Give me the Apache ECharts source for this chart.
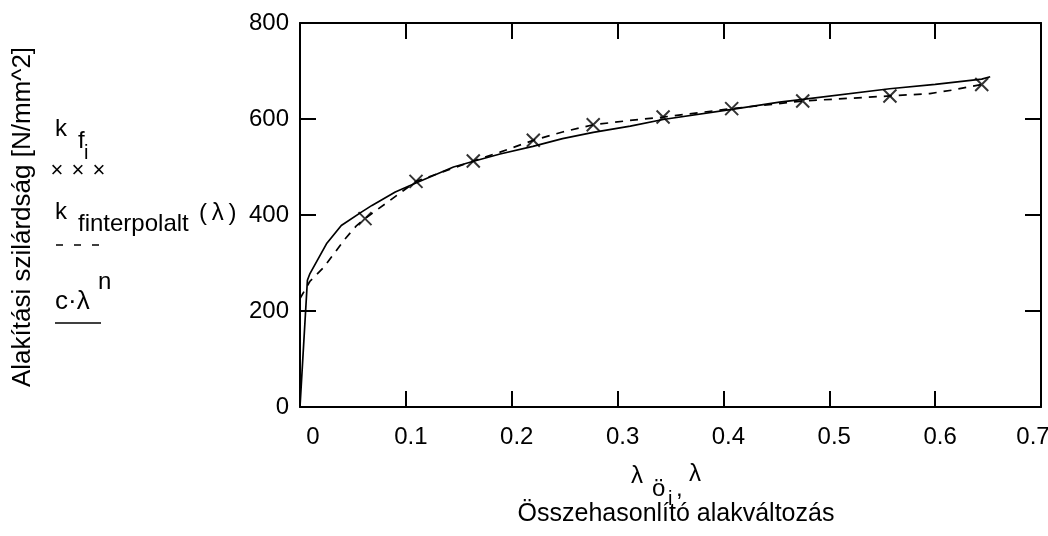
<!DOCTYPE html>
<html>
<head>
<meta charset="utf-8">
<script src="https://cdn.jsdelivr.net/npm/echarts@6/dist/echarts.min.js"></script>
<style>html,body{margin:0;padding:0;background:#fff}#c{width:1048px;height:536px}</style>
</head>
<body>
<div id="c"></div>
<script>
// c·λ^n curve
const lambdaSolid = [0, 0.007, 0.0094, 0.025, 0.039, 0.058, 0.068, 0.09, 0.11, 0.145, 0.164, 0.189, 0.22, 0.248, 0.277, 0.312, 0.343, 0.408, 0.453, 0.475, 0.557, 0.6, 0.644, 0.652];
const kSolid = [0, 264, 278, 340, 378, 406, 420, 448, 467, 500, 512, 527, 543, 559, 572, 585, 599, 620, 635, 641, 663, 672, 683, 688];
// k_finterpolalt(λ) dashed curve
const lambdaInterp = [0, 0.0094, 0.022, 0.033, 0.0425, 0.0535, 0.0614, 0.1096, 0.1637, 0.189, 0.2204, 0.248, 0.277, 0.3117, 0.343, 0.4078, 0.4749, 0.5573, 0.595, 0.6156, 0.644];
const kInterp = [226, 262, 290, 322, 350, 378, 392.5, 470, 512.5, 531, 555.6, 573, 588, 597, 604, 621.6, 637.5, 648, 653, 660, 672];
// k_fi measured points
const lambdaPts = [0.0614, 0.1096, 0.1637, 0.2204, 0.277, 0.343, 0.4078, 0.4749, 0.5573, 0.644];
const kPts = [392.5, 470, 512.5, 555.6, 588, 604, 621.6, 637.5, 648, 672];
// axis ticks
const xMin = 0, xMax = 0.7, xStep = 0.1;
const yMin = 0, yMax = 800, yStep = 200;

const FF = '"Liberation Sans", Arial, sans-serif';
const zip = (a, b) => a.map((v, i) => [v, b[i]]);

const chart = echarts.init(document.getElementById('c'), null, {renderer: 'canvas'});
const axLine = {onZero: false, lineStyle: {color: '#000', width: 2}};
const tick = {inside: true, length: 16, lineStyle: {color: '#000', width: 2}};

function txt(x, y, text, size, extra) {
  return {
    type: 'text', x: x, y: y,
    style: Object.assign({text: text, fontSize: size, fontFamily: FF, fill: '#000', align: 'left', verticalAlign: 'middle'}, extra || {})
  };
}

chart.setOption({
  animation: false,
  backgroundColor: '#fff',
  grid: {left: 300, right: 7, top: 23, bottom: 129, containLabel: false, outerBoundsMode: 'none'},
  xAxis: [{
    type: 'value', position: 'bottom', min: xMin, max: xMax, interval: xStep,
    axisLine: axLine, axisTick: tick, splitLine: {show: false},
    axisLabel: {
      color: '#000', fontSize: 24, fontFamily: FF, margin: 18, hideOverlap: false,
      formatter: v => v === xMin ? '{z|0}' : (Math.abs(v - xMax) < 1e-9 ? '{m|' + xMax + '}' : '{a|' + (+v.toFixed(1)) + '}'),
      rich: {
        z: {fontSize: 24, fontFamily: FF, color: '#000', padding: [0, 0, 0, 26]},
        a: {fontSize: 24, fontFamily: FF, color: '#000', padding: [0, 0, 0, 10]},
        m: {fontSize: 24, fontFamily: FF, color: '#000', padding: [0, 16, 0, 0]}
      }
    }
  }, {
    type: 'value', position: 'top', min: xMin, max: xMax, interval: xStep,
    axisLine: axLine, axisTick: tick, axisLabel: {show: false}, splitLine: {show: false}
  }],
  yAxis: [{
    type: 'value', position: 'left', min: yMin, max: yMax, interval: yStep,
    axisLine: axLine, axisTick: tick, splitLine: {show: false},
    axisLabel: {color: '#000', fontSize: 24, fontFamily: FF, margin: 11}
  }, {
    type: 'value', position: 'right', min: yMin, max: yMax, interval: yStep,
    axisLine: axLine, axisTick: tick, axisLabel: {show: false}, splitLine: {show: false}
  }],
  series: [{
    type: 'line', data: zip(lambdaSolid, kSolid), showSymbol: false, symbol: 'none',
    lineStyle: {color: '#000', width: 1.7}, z: 3
  }, {
    type: 'line', data: zip(lambdaInterp, kInterp), showSymbol: false, symbol: 'none',
    lineStyle: {color: '#000', width: 1.7, type: [8, 7]}, z: 2
  }, {
    type: 'scatter', data: zip(lambdaPts, kPts),
    symbol: 'path://M0,0L10,10M10,0L0,10', symbolSize: 13,
    itemStyle: {color: 'rgba(0,0,0,0)', borderColor: '#000', borderWidth: 2}, z: 4
  }],
  graphic: [
    // y-axis title
    {type: 'text', x: 23, y: 217, rotation: Math.PI / 2,
     style: {text: 'Alakítási szilárdság [N/mm^2]', fontSize: 26, fontFamily: FF, fill: '#000', align: 'center', verticalAlign: 'middle'}},
    // x-axis title line 1: λ öᵢ, λ
    txt(631, 476, 'λ', 24),
    txt(652, 489, 'ö', 24),
    txt(668, 499, 'i', 20),
    txt(676, 489, ',', 24),
    txt(689, 474, 'λ', 24),
    // x-axis title line 2
    {type: 'text', x: 676, y: 514,
     style: {text: 'Összehasonlító alakváltozás', fontSize: 25, fontFamily: FF, fill: '#000', align: 'center', verticalAlign: 'middle'}},
    // legend: k_fi
    txt(55, 129, 'k', 24),
    txt(78, 141, 'f', 24),
    txt(84, 153, 'i', 20),
    txt(57, 171, '×', 22, {align: 'center'}),
    txt(78, 171, '×', 22, {align: 'center'}),
    txt(99, 171, '×', 22, {align: 'center'}),
    // legend: k_finterpolalt(λ)
    txt(55, 212, 'k', 24),
    txt(78, 224, 'finterpolalt', 24),
    txt(199, 213, '(\u2009λ\u2009)', 24),
    {type: 'line', shape: {x1: 56, y1: 245, x2: 101, y2: 245},
     style: {stroke: '#000', lineWidth: 1.5, lineDash: [7, 11]}},
    // legend: c·λ^n
    txt(55, 302, 'c·λ', 26),
    txt(98, 282, 'n', 24),
    {type: 'line', shape: {x1: 55, y1: 323, x2: 101, y2: 323},
     style: {stroke: '#000', lineWidth: 1.5}}
  ]
});
</script>
</body>
</html>
